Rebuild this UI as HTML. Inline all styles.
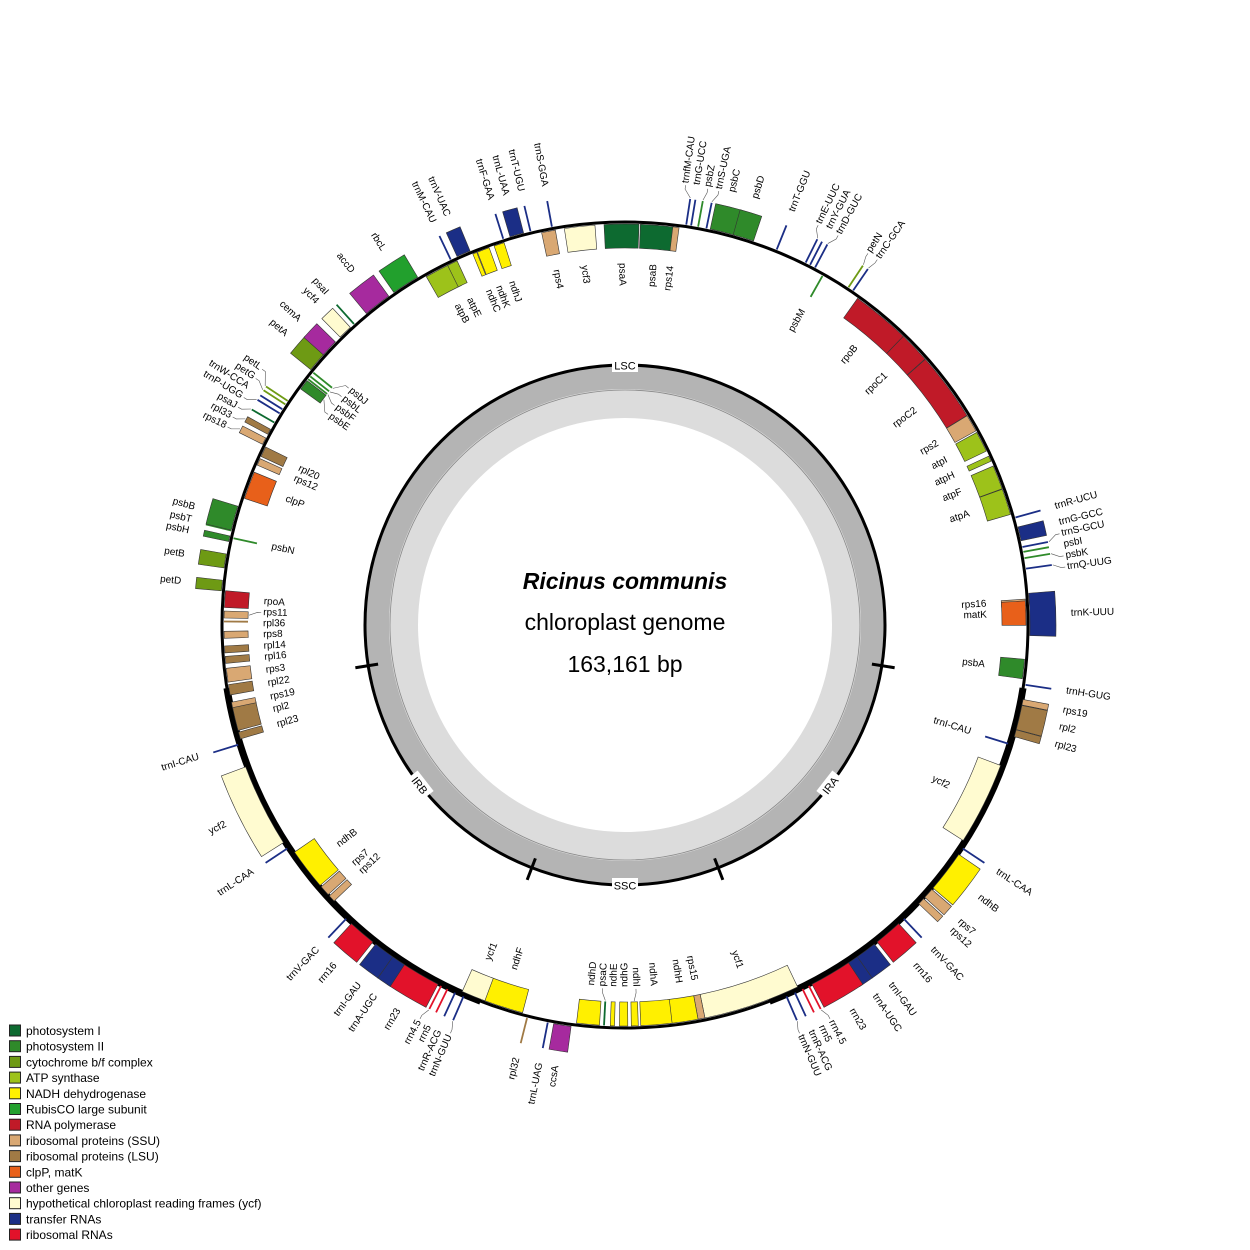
<!DOCTYPE html>
<html><head><meta charset="utf-8"><style>
html,body{margin:0;padding:0;background:#fff;}
svg{display:block;font-family:"Liberation Sans",Arial,sans-serif;}
</style></head><body>
<svg id="map" width="1250" height="1250" viewBox="0 0 1250 1250" xmlns="http://www.w3.org/2000/svg">
<rect width="1250" height="1250" fill="#fff"/>
<g id="ring"></g>
<g id="genes"></g>
<g id="labels"></g>
<g>
<text x="625" y="589" text-anchor="middle" font-size="23" font-weight="bold" font-style="italic">Ricinus communis</text>
<text x="625" y="630" text-anchor="middle" font-size="23">chloroplast genome</text>
<text x="625" y="672" text-anchor="middle" font-size="23">163,161 bp</text>
</g>
<g id="legend"></g>
</svg>
<script>
const geneNames=["trnfM-CAU","trnG-UCC","psbZ","trnS-UGA","psbC","psbD","trnT-GGU","trnE-UUC","trnY-GUA","trnD-GUC","psbM","petN","trnC-GCA","rpoB","rpoC1","rpoC2","rps2","atpI","atpH","atpF","atpA","trnR-UCU","trnG-GCC","trnS-GCU","psbI","psbK","trnQ-UUG","rps16","trnK-UUU","matK","psbA","trnH-GUG","rps19","rpl2","rpl23","trnI-CAU","ycf2","trnL-CAA","ndhB","rps7","rps12","trnV-GAC","rrn16","trnI-GAU","trnA-UGC","rrn23","rrn4.5","rrn5","trnR-ACG","trnN-GUU","ycf1","rps15","ndhH","ndhA","ndhI","ndhG","ndhE","psaC","ndhD","ccsA","trnL-UAG","rpl32","ndhF","ycf1","trnN-GUU","trnR-ACG","rrn5","rrn4.5","rrn23","trnA-UGC","trnI-GAU","rrn16","trnV-GAC","rps12","rps7","ndhB","trnL-CAA","ycf2","trnI-CAU","rpl23","rpl2","rps19","rpl22","rps3","rpl16","rpl14","rps8","rpl36","rps11","rpoA","petD","petB","psbN","psbH","psbT","psbB","clpP","rps12","rpl20","rps18","rpl33","psaJ","trnP-UGG","trnW-CCA","petG","petL","psbE","psbF","psbL","psbJ","petA","cemA","ycf4","psaI","accD","rbcL","atpB","atpE","trnM-CAU","trnV-UAC","ndhC","ndhK","ndhJ","trnF-GAA","trnL-UAA","trnT-UGU","rps4","trnS-GGA","ycf3","psaA","psaB","rps14"];
const geneAngles=[8.7,9.4,10.4,11.6,13.9,17,22,26.5,27.2,28,29.5,33.5,34.3,39.7,46.2,53.5,59.8,62.8,65.5,68.4,72.1,74.6,77,78.9,79.6,80.5,82,86.8,88.5,88.3,96.3,98.5,101,103.2,105.5,107.2,116.5,123.5,127.5,131.5,133,136.5,139.5,143.5,146,149.5,153,154,155.2,156.5,161.5,169,171.5,175.5,178.6,180.2,181.8,183,185.3,188.9,191,194,197.8,202.2,203.5,204.8,206,207,210.5,214,216.5,220.5,223.5,227,228.5,232.5,236.5,243.5,252.8,254,256.5,258.5,260.7,262.8,265,266.5,268.6,270.5,271.5,273.7,275.6,279.1,282.5,282.3,283.5,285.3,290.4,294,295.6,297,298.5,300,301.5,302.2,303,303.6,306.8,307.8,308.3,309,310.6,313.1,316.3,318,322.3,327.2,332.3,334.5,334.5,336.5,338,339.3,341.7,342.5,344.5,346.5,349,349.6,353.5,359.5,4.6,7.3];
const geneWidths=[0.4,0.4,0.4,0.4,3.5,3,0.4,0.4,0.4,0.4,0.4,0.4,0.4,8.5,4.5,10,2.5,3,0.8,3.5,3.8,0.4,2,0.4,0.4,0.4,0.4,1,6,3.5,2.8,0.4,0.8,3.5,1,0.4,12,0.4,6,1.5,1,0.4,4,3,2,6,0.4,0.5,0.4,0.4,14,1,4,4.5,1,1.2,0.6,0.5,3.3,2.5,0.4,0.4,6,3.5,0.4,0.4,0.5,0.4,6,2,3,4,0.4,1,1.5,6,0.4,12,0.4,1,3.5,0.8,1.5,2,1,1,1,0.4,1,2.4,1.5,2,0.4,0.8,0.4,3.5,4,1,1.5,1,0.8,0.4,0.4,0.4,0.4,0.4,1.5,0.4,0.4,0.4,3,2.5,2,0.4,4,4,4,1.5,0.4,2,0.6,1.8,1.5,0.4,2,0.4,2,0.4,4.4,5,4.8,0.9];
const geneSides=["o","o","o","o","o","o","o","o","o","o","i","o","o","i","i","i","i","i","i","i","i","o","o","o","o","o","o","i","o","i","i","o","o","o","o","i","i","o","o","o","o","o","o","o","o","o","o","o","o","o","i","i","i","i","i","i","i","i","i","o","o","o","i","i","o","o","o","o","o","o","o","o","o","i","i","i","o","o","o","i","i","i","i","i","i","i","i","i","i","i","o","o","i","o","o","o","i","i","i","o","o","o","o","o","o","o","i","i","i","i","o","o","o","o","o","o","i","i","o","o","i","i","i","o","o","o","i","o","i","i","i","i"];
const geneGroups=["t","t","p2","t","p2","p2","t","t","t","t","p2","cy","t","rp","rp","rp","s","a","a","a","a","t","t","t","p2","p2","t","s","t","cm","p2","t","s","l","l","t","y","t","n","s","s","t","r","t","t","r","r","r","t","t","y","s","n","n","n","n","n","p1","n","o","t","l","n","y","t","t","r","r","r","t","t","r","t","s","s","n","t","y","t","l","l","s","l","s","l","l","s","l","s","rp","cy","cy","p2","p2","p2","p2","cm","s","l","s","l","p1","t","t","cy","cy","p2","p2","p2","p2","cy","o","y","p1","o","rb","a","a","t","t","n","n","n","t","t","t","s","t","y","p1","p1","s"];
const groupColors={p1:"#0d6a30",p2:"#2f8a2a",cy:"#6e9a14",a:"#9dc21a",n:"#fff000",rb:"#22a02d",rp:"#c01a28",s:"#d9a873",l:"#a07a45",cm:"#e8601a",o:"#a62a9e",y:"#fffbd0",t:"#1b2e86",r:"#e2122a"};
const legendKeys=["p1","p2","cy","a","n","rb","rp","s","l","cm","o","y","t","r"];
const legendLabels=["photosystem I","photosystem II","cytochrome b/f complex","ATP synthase","NADH dehydrogenase","RubisCO large subunit","RNA polymerase","ribosomal proteins (SSU)","ribosomal proteins (LSU)","clpP, matK","other genes","hypothetical chloroplast reading frames (ycf)","transfer RNAs","ribosomal RNAs"];
const regionNames=["LSC","IRA","SSC","IRB"];
const regionLabelAngles=[0,128,180,232];
const regionBoundaries=[99,159,201,261];
const irArcs=[[99,159],[201,261]];

const NS="http://www.w3.org/2000/svg";
const CX=625,CY=625,R=403;
function P(r,a){const t=a*Math.PI/180;return [CX+r*Math.sin(t),CY-r*Math.cos(t)];}
function mk(tag,attrs,parent){const e=document.createElementNS(NS,tag);for(const k in attrs)e.setAttribute(k,attrs[k]);parent.appendChild(e);return e;}
function sector(r1,r2,a1,a2){const p1=P(r2,a1),p2=P(r2,a2),p3=P(r1,a2),p4=P(r1,a1);const lg=(a2-a1)>180?1:0;
return `M${p1[0]},${p1[1]} A${r2},${r2} 0 ${lg} 1 ${p2[0]},${p2[1]} L${p3[0]},${p3[1]} A${r1},${r1} 0 ${lg} 0 ${p4[0]},${p4[1]} Z`;}
function arc(r,a1,a2){const p1=P(r,a1),p2=P(r,a2);return `M${p1[0]},${p1[1]} A${r},${r} 0 ${(a2-a1)>180?1:0} 1 ${p2[0]},${p2[1]}`;}

const ring=document.getElementById('ring');
let e;
e=mk('circle',{cx:CX,cy:CY,r:233.5,fill:"none",stroke:"#dcdcdc","stroke-width":53},ring);


e=mk('circle',{cx:CX,cy:CY,r:248,fill:"none",stroke:"#b4b4b4","stroke-width":24},ring);


e=mk('circle',{cx:CX,cy:CY,r:235,fill:"none",stroke:"#888","stroke-width":0.8},ring);


e=mk('circle',{cx:CX,cy:CY,r:260,fill:"none",stroke:"#000","stroke-width":3},ring);


regionBoundaries.forEach(a=>{const p=P(250,a),q=P(273,a);
 const t=mk('line',{x1:p[0],y1:p[1],x2:q[0],y2:q[1],stroke:"#000","stroke-width":3},ring);
 
 });
regionNames.forEach((n,i)=>{const p=P(260,regionLabelAngles[i]);
 const g=mk('g',{transform:`translate(${p[0]},${p[1]}) rotate(${regionLabelAngles[i]>90&&regionLabelAngles[i]<270?regionLabelAngles[i]-180:regionLabelAngles[i]})`},ring);
 
 
 mk('rect',{x:-13,y:-7,width:26,height:14,fill:"#fff"},g);
 mk('text',{x:0,y:4.5,"text-anchor":"middle","font-size":11},g).textContent=n;});
const genes=document.getElementById('genes');
e=mk('circle',{cx:CX,cy:CY,r:R,fill:"none",stroke:"#000","stroke-width":3},genes);


irArcs.forEach(a=>{const p=mk('path',{d:arc(R,a[0],a[1]),fill:"none",stroke:"#000","stroke-width":7},genes);
 
 });

const labs=[];
geneNames.forEach((n,i)=>{
 const a=geneAngles[i],w=geneWidths[i],side=geneSides[i],col=groupColors[geneGroups[i]];
 const r1=side==='o'?405:377,r2=side==='o'?431:401;
 let el;
 if(w<0.6){const p=P(r1,a),q=P(r2,a);
  el=mk('line',{x1:p[0],y1:p[1],x2:q[0],y2:q[1],stroke:col,"stroke-width":1.8},genes);}
 else el=mk('path',{d:sector(r1,r2,a-w/2,a+w/2),fill:col,stroke:"#333","stroke-width":0.6},genes);
 
 
 labs.push({n,a:((a%360)+360)%360,side,la:((a%360)+360)%360});
});
['o','i'].forEach(s=>{
 const arr=labs.filter(l=>l.side===s).sort((x,y)=>x.a-y.a);
 const d=s==='o'?1.45:1.75;
 for(let it=0;it<200;it++){for(let k=0;k<arr.length-1;k++){const gap=arr[k+1].la-arr[k].la;if(gap<d){const m=(d-gap)/2;arr[k].la-=m;arr[k+1].la+=m;}}}
});
const L=document.getElementById('labels');
labs.forEach(l=>{
 const out=l.side==='o';
 const rA=out?432:376,rB=out?440:368,rT=out?446:362;
 const a=l.la, right=(a>=0&&a<180);
 if(Math.abs(l.la-l.a)>0.3){const p=P(rA,l.a),q=P(rB,a),q2=P(out?444:364,a);
  const ln=mk('polyline',{points:`${p[0]},${p[1]} ${q[0]},${q[1]} ${q2[0]},${q2[1]}`,fill:"none",stroke:"#555","stroke-width":0.6},L);
  
  }
 const p=P(rT,a);
 const rot=right?a-90:a+90;
 let anchor;
 if(right)anchor=out?'start':'end'; else anchor=out?'end':'start';
 const t=mk('text',{x:0,y:0,transform:`translate(${p[0]},${p[1]}) rotate(${rot})`,"text-anchor":anchor,"dominant-baseline":"central","font-size":10},L);
 t.textContent=l.n;
 
 
});
const LG=document.getElementById('legend');
legendKeys.forEach((k,i)=>{const y=1025+i*15.7;
 const r=mk('rect',{x:9.5,y:y,width:11,height:11,fill:groupColors[k],stroke:"#222","stroke-width":1},LG);
 
 
 const t=mk('text',{x:26,y:y+10,"font-size":12},LG);t.textContent=legendLabels[i];
 
 });
</script>
</body></html>
